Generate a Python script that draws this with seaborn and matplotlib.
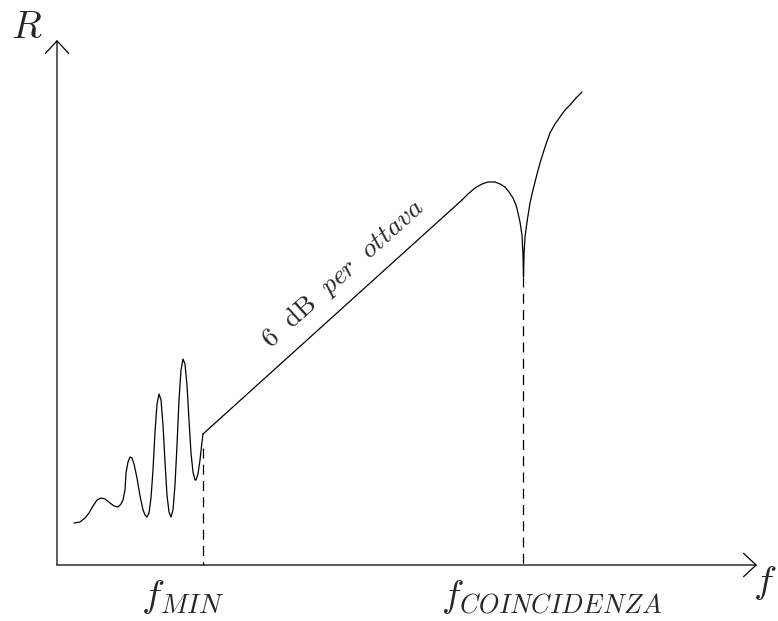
import numpy as np
import pandas as pd
import matplotlib
matplotlib.use("Agg")
import matplotlib.pyplot as plt
import seaborn as sns

sns.set_theme(style="white")
plt.rcParams["mathtext.fontset"] = "cm"

# origin of the axes (picture pixels), values below are measured from it
X0, Y0 = 57, 565

# transmission loss curve (x right, y up, in px from the origin)
curve_x = [74, 80, 85, 89, 93, 97, 101, 105, 110, 114, 118, 121, 123, 125, 126, 128, 130, 132,
           134, 137, 140, 143, 145, 147, 149, 151, 153, 155, 157, 159, 161, 163, 165, 167, 169,
           171, 173, 175, 177, 179, 181, 183, 185, 187, 189, 191, 193, 195, 196, 198, 200, 202, 203]
curve_y = [523, 522, 518, 513, 506, 500, 498, 499, 503, 506, 507, 504, 500, 490, 473, 462, 457, 458,
           464, 478, 496, 510, 515, 517, 513, 498, 470, 432, 404, 394, 400, 425, 462, 495, 512,
           517, 510, 485, 445, 400, 370, 359, 364, 385, 420, 453, 472, 480, 480, 474, 460, 442, 434]

# mass law segment and coincidence region
mass_x = [203, 462]
mass_y = [434, 200]
coinc_x = [462, 468, 475, 482, 488, 495, 500, 505, 509, 513, 516, 518, 520, 522, 523, 523.5,
           524, 525, 527, 530, 533, 536, 540, 545, 550, 555, 560, 565, 570, 576, 582]
coinc_y = [200, 194, 188, 184, 182, 182, 184, 187, 192, 198, 205, 213, 222, 235, 255, 277,
           255, 237, 222, 203, 190, 178, 163, 147, 133, 124, 117, 110, 105, 98, 92]

f_min_x, f_min_top = 203, 448
f_co_x, f_co_top = 523.5, 277

def to_xy(xs, ys):
    return [x - X0 for x in xs], [Y0 - y for y in ys]

segments = []
for name, xs, ys in [("osc", curve_x, curve_y), ("mass", mass_x, mass_y), ("coinc", coinc_x, coinc_y)]:
    xx, yy = to_xy(xs, ys)
    segments.append(pd.DataFrame({"f": xx, "R": yy, "part": name}))
df = pd.concat(segments, ignore_index=True)

fig = plt.figure(figsize=(7.78, 6.21), dpi=100)
ax = fig.add_axes([0, 0, 1, 1])
ax.set_xlim(-X0, 778 - X0)
ax.set_ylim(-(621 - Y0), Y0)
ax.axis("off")

sns.lineplot(data=df, x="f", y="R", units="part", estimator=None, sort=False,
             color="black", lw=0.9, ax=ax)

# dashed markers down to the frequency axis
for fx, ftop in [(f_min_x, f_min_top), (f_co_x, f_co_top)]:
    ax.plot([fx - X0, fx - X0], [Y0 - ftop, 0], color="black", lw=0.9,
            linestyle=(0, (8, 5)))

# axes with open arrow heads
arrow = dict(arrowstyle="->,head_length=0.75,head_width=0.7", color="black", lw=0.9,
             shrinkA=0, shrinkB=0)
ax.annotate("", xy=(757 - X0, 0), xytext=(0, 0), arrowprops=arrow)
ax.annotate("", xy=(0, Y0 - 40), xytext=(0, 0), arrowprops=arrow)

ax.text(27 - X0, Y0 - 27, r"$R$", fontsize=28, ha="center", va="center")
ax.text(765 - X0, Y0 - 583, r"$f$", fontsize=28, ha="center", va="center")
ax.text(183 - X0, Y0 - 597, r"$f_{MIN}$", fontsize=28, ha="center", va="center")
ax.text(551 - X0, Y0 - 597, r"$f_{COINCIDENZA}$", fontsize=27, ha="center", va="center")
ax.text(343 - X0, Y0 - 274, r"$6\ \ \mathrm{dB}\ \ per\ \ ottava$", fontsize=19.5,
        ha="center", va="center", rotation=42, rotation_mode="anchor")

fig.savefig("out.png", dpi=100)
